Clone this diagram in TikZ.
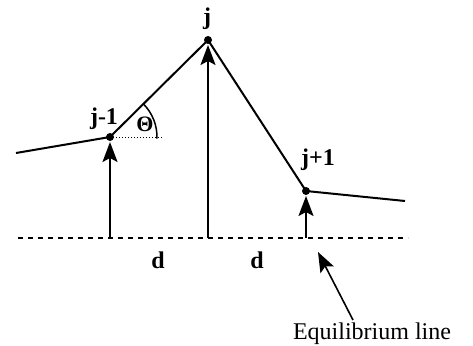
\documentclass[tikz,border=0pt]{standalone}
\usepackage{fontspec}
\setmainfont{Liberation Serif}
\usetikzlibrary{arrows.meta}
\begin{document}
\begin{tikzpicture}[x=1pt,y=-1pt,
  chain/.style={line width=2pt},
  disp/.style={line width=2pt,-{Stealth[length=20pt,width=15pt,inset=4pt]},shorten >=5pt},
  dot/.style={circle,fill=black,inner sep=0pt,minimum size=8pt},
  lbl/.style={font=\fontsize{24}{28}\selectfont\bfseries,inner sep=0pt},
  txt/.style={font=\fontsize{24}{28}\selectfont,inner sep=0pt}]
\useasboundingbox (0,0) rectangle (473,345);
% equilibrium line
\coordinate (eqL) at (18,238);
\coordinate (eqR) at (408,238);
\draw[line width=1.4pt,dash pattern=on 5pt off 5pt] (eqL) -- (eqR);
% masses
\node[dot] (jm) at (110,137) {};
\node[dot] (j) at (208,40) {};
\node[dot] (jp) at (306,191) {};
\coordinate (lend) at (16,153);
\coordinate (rend) at (405,201);
\coordinate (bm) at (110,238);
\coordinate (b0) at (208,238);
\coordinate (bp) at (306,238);
% chain
\draw[chain] (lend) -- (jm.center) -- (j.center) -- (jp.center) -- (rend);
% displacement arrows
\draw[disp] (bm) -- (jm.center);
\draw[disp] (b0) -- (j.center);
\draw[disp] (bp) -- (jp.center);
% angle
\coordinate (hz) at (162,137);
\draw[line width=1pt,dotted] (jm.center) -- (hz);
\draw[line width=1.5pt] (jm.center) ++(-45:47) arc[start angle=-45,end angle=2,radius=47];
\node[lbl] (th) at (145,124) {\fontsize{22}{26}\selectfont Θ};
% labels
\node[lbl] (lj) at (207,19) {j};
\node[lbl] (ljm) at (104,119) {j-1};
\node[lbl] (ljp) at (318,160) {j+1};
\node[lbl] (d1) at (158,260) {d};
\node[lbl] (d2) at (257,260) {d};
\node[txt] (eqt) at (372,334) {Equilibrium line};
\draw[line width=1.6pt,-{Stealth[length=20pt,width=15pt,inset=4pt]}] (353,320) -- (318,252);
\end{tikzpicture}
\end{document}
